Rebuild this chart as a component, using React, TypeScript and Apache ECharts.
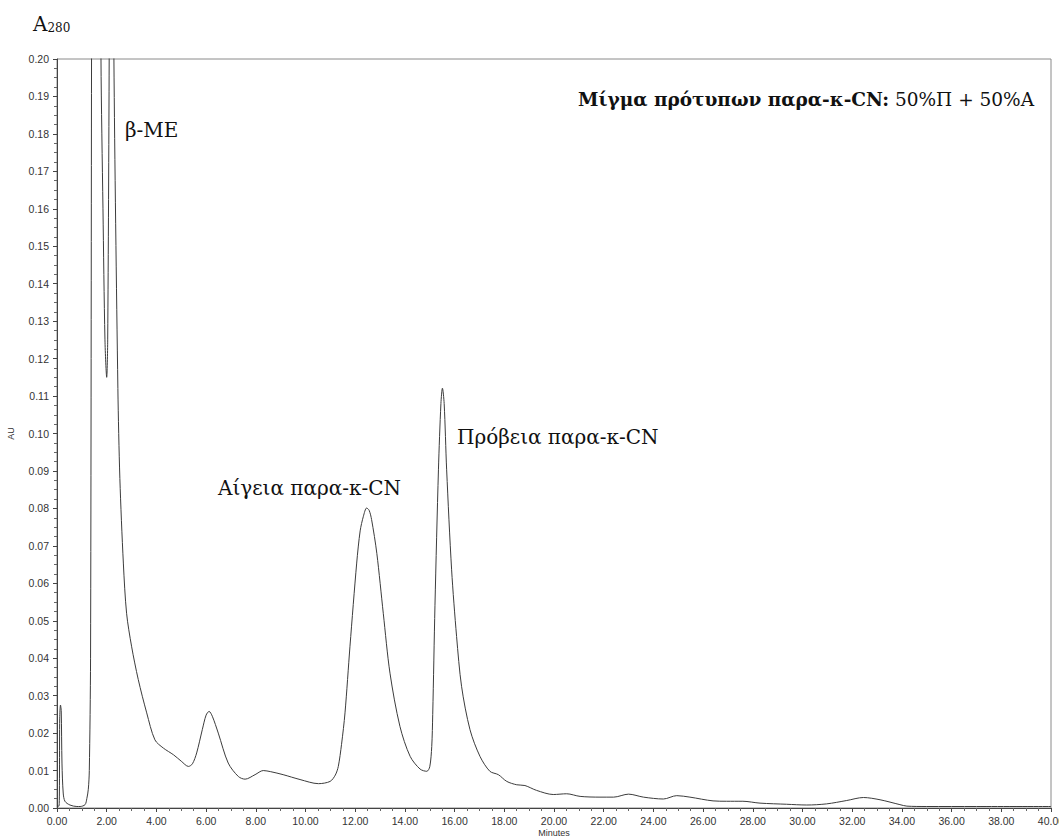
import React, { useEffect, useRef } from "react";
import * as echarts from "echarts";

// Retention time (min) of each sampled detector point
const minutes = [
  0, 0.08, 0.11, 0.14, 0.17, 0.2, 0.25, 0.32, 0.52, 0.8, 0.93, 1.13, 1.2, 1.26, 1.3, 1.35,
  1.39, 1.42, 1.6, 1.72, 1.77, 1.85, 1.93, 2.0, 2.04, 2.1, 2.15, 2.22, 2.29, 2.45, 2.53,
  2.67, 2.8, 3.0, 3.27, 3.61, 3.94, 4.28, 4.69, 5.0, 5.29, 5.45, 5.62, 5.85, 6.0, 6.12,
  6.25, 6.49, 6.89, 7.3, 7.57, 7.97, 8.3, 8.6, 9.1, 9.78, 10.52, 10.99, 11.2, 11.32,
  11.45, 11.59, 11.79, 12.06, 12.2, 12.33, 12.46, 12.56, 12.66, 12.87, 13.13, 13.4,
  13.8, 14.21, 14.61, 14.88, 15.0, 15.08, 15.12, 15.21, 15.35, 15.45, 15.51, 15.58,
  15.68, 15.88, 16.08, 16.28, 16.62, 17.02, 17.42, 17.76, 18.1, 18.5, 18.83, 19.3,
  19.97, 20.51, 21.05, 21.85, 22.4, 23.0, 23.6, 24.4, 24.94, 25.47, 26.4, 26.94, 27.6,
  28.29, 29.36, 30.17, 30.97, 31.78, 32.45, 33.12, 33.92, 34.2, 35, 37, 40,
];

// Absorbance at 280 nm (AU) for each retention time above
const absorbance = [
  0.0005, 0.0005, 0.024, 0.0275, 0.026, 0.012, 0.004, 0.0018, 0.0008, 0.0004, 0.0004,
  0.0009, 0.0025, 0.005, 0.01, 0.04, 0.2, 0.3, 0.4, 0.3, 0.2, 0.16, 0.125, 0.115, 0.125,
  0.2, 0.3, 0.3, 0.2, 0.112, 0.088, 0.0654, 0.052, 0.0432, 0.0343, 0.0254, 0.0182, 0.016,
  0.0142, 0.0125, 0.0111, 0.0118, 0.0147, 0.021, 0.0248, 0.0258, 0.0245, 0.02, 0.012,
  0.0084, 0.0077, 0.0089, 0.01, 0.0097, 0.0089, 0.0076, 0.0065, 0.0071, 0.0088, 0.0111,
  0.017, 0.0254, 0.0432, 0.0654, 0.074, 0.0779, 0.0801, 0.0795, 0.077, 0.068, 0.052,
  0.036, 0.0218, 0.0138, 0.0104, 0.0098, 0.011, 0.0164, 0.025, 0.054, 0.0903, 0.108,
  0.1121, 0.108, 0.0903, 0.0636, 0.0458, 0.0325, 0.0209, 0.0138, 0.0098, 0.0089, 0.0071,
  0.0062, 0.006, 0.0047, 0.0036, 0.0038, 0.0031, 0.0029, 0.0029, 0.0037, 0.0029, 0.0024,
  0.0033, 0.0029, 0.0019, 0.0018, 0.0018, 0.0013, 0.001, 0.0008, 0.0011, 0.002, 0.0028,
  0.0022, 0.0009, 0.0005, 0.0004, 0.0004, 0.0004,
];

// Peak annotations
const peakLabels = ["β-ME", "Αίγεια παρα-κ-CN", "Πρόβεια παρα-κ-CN"];
const sampleTitle = "Μίγμα πρότυπων παρα-κ-CN:";
const sampleMix = " 50%Π + 50%Α";

const axisFont = "'Liberation Sans', Arial, sans-serif";
const serifFont = "'DejaVu Serif', 'Liberation Serif', serif";

export default function App() {
  const ref = useRef<HTMLDivElement>(null);

  useEffect(() => {
    if (!ref.current) return;
    const chart = echarts.init(ref.current, null, { renderer: "svg" });
    const points = minutes.map((t, i) => [t, absorbance[i]]);

    const peakText = (text: string, x: number, y: number) => ({
      type: "text",
      x,
      y,
      style: {
        text,
        fontFamily: serifFont,
        fontSize: 20,
        fill: "#111",
        verticalAlign: "middle",
      },
    });

    chart.setOption({
      animation: false,
      backgroundColor: "#ffffff",
      grid: {
        left: 57,
        right: 8,
        top: 59,
        bottom: 30,
        outerBoundsMode: "none",
        containLabel: false,
        show: true,
        borderColor: "#8a8a8a",
        borderWidth: 1,
        backgroundColor: "transparent",
      },
      xAxis: {
        type: "value",
        min: 0,
        max: 40,
        interval: 2,
        name: "Minutes",
        nameLocation: "middle",
        nameGap: 20,
        nameMoveOverlap: false,
        nameTextStyle: { fontFamily: axisFont, fontSize: 9, color: "#333" },
        axisLine: { lineStyle: { color: "#444", width: 1 } },
        axisTick: { length: 4, lineStyle: { color: "#444" } },
        minorTick: { show: true, splitNumber: 4, length: 3, lineStyle: { color: "#666" } },
        splitLine: { show: false },
        axisLabel: {
          fontFamily: axisFont,
          fontSize: 10.5,
          color: "#333",
          margin: 7,
          hideOverlap: false,
          formatter: (v: number) => v.toFixed(2),
        },
      },
      yAxis: {
        type: "value",
        min: 0,
        max: 0.2,
        interval: 0.01,
        name: "AU",
        nameLocation: "middle",
        nameGap: 42,
        nameRotate: 90,
        nameMoveOverlap: false,
        nameTextStyle: { fontFamily: axisFont, fontSize: 9, color: "#333" },
        axisLine: { show: true, lineStyle: { color: "#444", width: 1 } },
        axisTick: { show: true, length: 4, lineStyle: { color: "#444" } },
        minorTick: { show: true, splitNumber: 4, length: 3, lineStyle: { color: "#666" } },
        splitLine: { show: false },
        axisLabel: {
          fontFamily: axisFont,
          fontSize: 10.5,
          color: "#333",
          margin: 8,
          formatter: (v: number) => v.toFixed(2),
        },
      },
      series: [
        {
          type: "line",
          data: points,
          showSymbol: false,
          smooth: 0.3,
          clip: true,
          lineStyle: { color: "#3c3c3c", width: 1 },
        },
      ],
      graphic: [
        {
          type: "text",
          left: 33,
          top: 14,
          style: {
            text: "{a|A}{s|280}",
            rich: {
              a: { fontFamily: serifFont, fontSize: 20, fill: "#111", verticalAlign: "bottom" },
              s: { fontFamily: serifFont, fontSize: 12, fill: "#111", padding: [7, 0, 0, 0] },
            },
          },
        },
        peakText(peakLabels[0], 125, 130),
        peakText(peakLabels[1], 218, 488),
        peakText(peakLabels[2], 457, 437),
        {
          type: "text",
          x: 1034,
          y: 99,
          style: {
            text: "{b|" + sampleTitle + "}{n|" + sampleMix + "}",
            align: "right",
            verticalAlign: "middle",
            rich: {
              b: { fontFamily: serifFont, fontSize: 18.5, fontWeight: "bold", fill: "#111" },
              n: { fontFamily: serifFont, fontSize: 18.5, fill: "#111" },
            },
          },
        },
      ],
    });

    return () => chart.dispose();
  }, []);

  return (
    <div
      ref={ref}
      style={{ position: "fixed", left: 0, top: 0, width: 1059, height: 838 }}
    />
  );
}
